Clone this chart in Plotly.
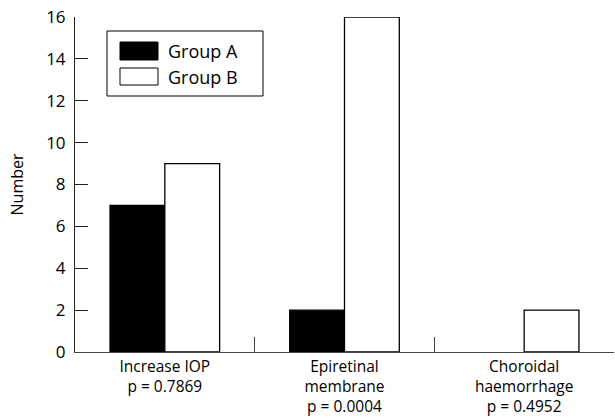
import plotly.graph_objects as go

categories = ["Increase IOP<br>p = 0.7869", "Epiretinal<br>membrane<br>p = 0.0004", "Choroidal<br>haemorrhage<br>p = 0.4952"]
group_a = [7, 2, 0]
group_b = [9, 16, 2]
series_names = ["Group A", "Group B"]
y_ticks = [0, 2, 4, 6, 8, 10, 12, 14, 16]

W, H = 615, 419
ML, MR, MT, MB = 75, 1, 17, 67
FONT = "Open Sans, Noto Sans, sans-serif"

def outline_widths(values):
    return [1.3 if v > 0 else 0 for v in values]

fig = go.Figure()
fig.add_trace(go.Bar(x=categories, y=group_a, name=series_names[0],
                     marker=dict(color="black", line=dict(color="black", width=outline_widths(group_a))),
                     showlegend=False))
fig.add_trace(go.Bar(x=categories, y=group_b, name=series_names[1],
                     marker=dict(color="white", line=dict(color="black", width=outline_widths(group_b))),
                     showlegend=False))

pw = W - ML - MR
ph = H - MT - MB
def px(x):
    return (x - ML) / pw
def py(y):
    return (H - MB - y) / ph

shapes = [
    dict(type="rect", xref="paper", yref="paper", x0=px(107), x1=px(263), y0=py(96), y1=py(31),
         line=dict(color="black", width=1), fillcolor="white", layer="above"),
    dict(type="rect", xref="paper", yref="paper", x0=px(120), x1=px(158), y0=py(60), y1=py(42),
         line=dict(color="black", width=1), fillcolor="black", layer="above"),
    dict(type="rect", xref="paper", yref="paper", x0=px(120), x1=px(158), y0=py(85), y1=py(68),
         line=dict(color="black", width=1), fillcolor="white", layer="above"),
]
annotations = [
    dict(xref="paper", yref="paper", x=px(166), y=py(51), text=series_names[0], showarrow=False,
         xanchor="left", yanchor="middle", font=dict(size=18, color="black", family=FONT)),
    dict(xref="paper", yref="paper", x=px(166), y=py(77), text=series_names[1], showarrow=False,
         xanchor="left", yanchor="middle", font=dict(size=18, color="black", family=FONT)),
]

fig.update_layout(
    width=W, height=H,
    margin=dict(l=ML, r=MR, t=MT, b=MB, autoexpand=False),
    paper_bgcolor="white", plot_bgcolor="white",
    barmode="group", bargap=0.39, bargroupgap=0,
    font=dict(family=FONT, size=15, color="black"),
    shapes=shapes, annotations=annotations,
    xaxis=dict(type="category", tickson="boundaries", ticks="inside", ticklen=15,
               tickcolor="#444", tickwidth=1, showline=True, linecolor="#444", linewidth=1,
               showgrid=False, zeroline=False, automargin=False,
               tickfont=dict(size=15.5, family=FONT)),
    yaxis=dict(range=[0, 16], tickvals=y_ticks, ticks="inside", ticklen=13,
               tickcolor="#222", tickwidth=1, showline=True, linecolor="#222", linewidth=1,
               showgrid=False, zeroline=False, ticklabelstandoff=5, automargin=False,
               tickfont=dict(size=17, family=FONT),
               title=dict(text="Number", font=dict(size=16, family=FONT), standoff=18)),
)

fig.write_html("out.html", config={"displayModeBar": False},
               post_script="document.body.style.margin='0';document.body.style.padding='0';")
